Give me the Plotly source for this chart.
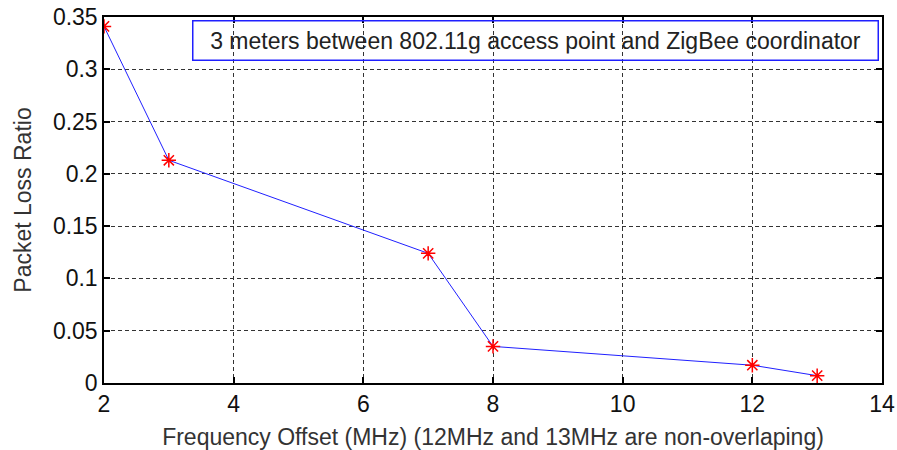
import plotly.graph_objects as go

freq_offset = [2, 3, 7, 8, 12, 13]
packet_loss = [0.341, 0.213, 0.124, 0.035, 0.017, 0.007]
x_ticks = [2, 4, 6, 8, 10, 12, 14]
y_ticks = [0, 0.05, 0.1, 0.15, 0.2, 0.25, 0.3, 0.35]
y_tick_text = ["0", "0.05", "0.1", "0.15", "0.2", "0.25", "0.3", "0.35"]
legend_text = "3 meters between 802.11g access point and ZigBee coordinator"

font_family = "Liberation Sans, Arial, sans-serif"
fs = 23

fig = go.Figure()
fig.add_trace(go.Scatter(
    x=freq_offset, y=packet_loss, mode="lines+markers",
    line=dict(color="#2020ff", width=1),
    marker=dict(symbol="asterisk-open", size=12, color="red",
                line=dict(color="red", width=1.5)),
    showlegend=False,
))

axis_common = dict(
    showline=True, linecolor="black", linewidth=1.5, mirror="ticks",
    ticks="inside", ticklen=6, tickcolor="black", tickwidth=1.5,
    showgrid=True, gridcolor="#333", griddash="4px,3px", gridwidth=1,
    zeroline=False, automargin=False,
    tickfont=dict(family=font_family, size=fs, color="#111"),
)

fig.update_layout(
    width=897, height=450,
    margin=dict(l=104, r=15, t=17, b=67),
    paper_bgcolor="white", plot_bgcolor="white",
    font=dict(family=font_family, size=fs, color="#333"),
    xaxis=dict(range=[2, 14], tickvals=x_ticks, **axis_common,
               title=dict(text="Frequency Offset (MHz) (12MHz and 13MHz are non-overlaping)",
                          font=dict(size=fs, color="#333"))),
    yaxis=dict(range=[0, 0.35], tickvals=y_ticks, ticktext=y_tick_text, **axis_common,
               title=dict(text="Packet Loss Ratio", font=dict(size=fs, color="#333"))),
    annotations=[dict(
        text=legend_text, xref="paper", yref="paper", x=0.996, y=0.992,
        xanchor="right", yanchor="top", showarrow=False, width=672, align="center",
        bordercolor="#2020ff", borderwidth=1.5, borderpad=6,
        font=dict(family=font_family, size=fs, color="#222"),
        bgcolor="rgba(255,255,255,0)",
    )],
)

fig.write_html("out.html")
